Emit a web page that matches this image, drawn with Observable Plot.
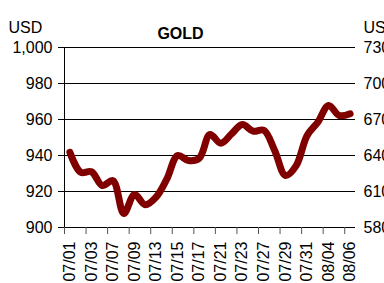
<!DOCTYPE html>
<html>
<head>
<meta charset="utf-8">
<script src="https://cdn.jsdelivr.net/npm/d3@7"></script>
<script src="https://cdn.jsdelivr.net/npm/@observablehq/plot@0.6"></script>
<style>
  html, body { margin: 0; padding: 0; background: white; overflow: hidden; }
  #chart { width: 384px; height: 283px; overflow: hidden; }
</style>
</head>
<body>
<div id="chart"></div>
<script>
const dates = ["07/01","07/02","07/03","07/06","07/07","07/08","07/09","07/10","07/13","07/14",
  "07/15","07/16","07/17","07/20","07/21","07/22","07/23","07/24","07/27","07/28",
  "07/29","07/30","07/31","08/03","08/04","08/05","08/06"];
const gold = [941.8, 930.7, 931.0, 923.3, 926.0, 907.8, 918.3, 912.6, 916.9, 927.0,
  940.0, 937.2, 938.5, 951.7, 946.8, 952.0, 957.2, 953.5, 954.0, 942.8,
  928.9, 934.4, 951.0, 958.5, 967.8, 962.2, 963.2];
const yTicks = [900, 920, 940, 960, 980, 1000];
const rightLabels = ["580", "610", "640", "670", "700", "730"];
const title = "GOLD";
const unitLeft = "USD";
const unitRight = "USD";

const idx = dates.map((d, i) => i);
const labelIdx = idx.filter(i => i % 2 === 0);
const boundaries = labelIdx.map(i => i - 0.5);
const data = dates.map((d, i) => ({i, date: d, value: gold[i]}));

const chart = Plot.plot({
  width: 384,
  height: 283,
  marginTop: 47,
  marginBottom: 56,
  marginLeft: 64,
  marginRight: 29,
  style: {fontFamily: "'Liberation Sans', Arial, sans-serif", fontSize: "16px", color: "black", background: "white", overflow: "hidden"},
  x: {type: "linear", domain: [-0.5, dates.length - 0.5], axis: null},
  y: {domain: [900, 1000], axis: null},
  marks: [
    Plot.ruleY(yTicks, {stroke: "black", strokeWidth: 1, strokeOpacity: 1}),
    Plot.ruleX([-0.5], {stroke: "black", strokeWidth: 1}),
    Plot.axisY({ticks: yTicks, tickSize: 6, tickPadding: 6, tickFormat: d3.format(","), label: null, anchor: "left", strokeOpacity: 1}),
    Plot.text(yTicks, {y: d => d, text: (d, i) => rightLabels[i], frameAnchor: "right", textAnchor: "start", dx: 8}),
    Plot.axisX({ticks: boundaries, tickSize: 7, tickFormat: () => "", label: null, stroke: "#555", strokeOpacity: 1}),
    Plot.axisX({ticks: labelIdx, tickSize: 0, tickPadding: 14, tickRotate: -90, tickFormat: i => dates[i], label: null}),
    Plot.line(data, {x: "i", y: "value", stroke: "#800000", strokeWidth: 7, curve: "catmull-rom", strokeLinecap: "round", strokeLinejoin: "round"}),
    Plot.text([title], {frameAnchor: "top-left", dx: 116, dy: -20, textAnchor: "middle", fontWeight: "bold"}),
    Plot.text([unitLeft], {frameAnchor: "top-left", dx: -56, dy: -26, textAnchor: "start"}),
    Plot.text([unitRight], {frameAnchor: "top-right", dx: 8, dy: -26, textAnchor: "start"})
  ]
});
document.getElementById("chart").append(chart);
</script>
</body>
</html>
